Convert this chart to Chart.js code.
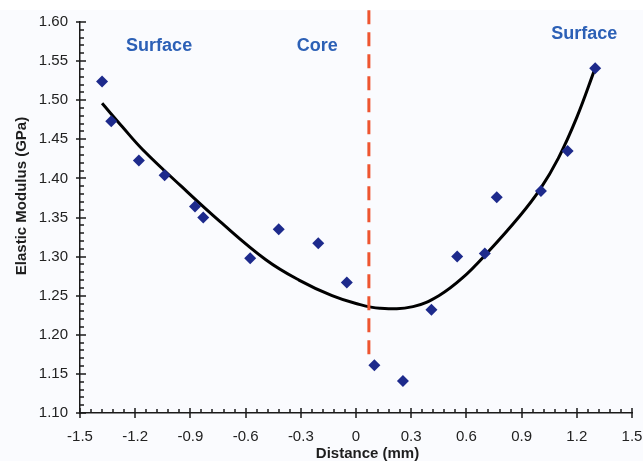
<!DOCTYPE html>
<html>
<head>
<meta charset="utf-8">
<script src="https://cdn.jsdelivr.net/npm/chart.js@4"></script>
<style>
  html, body { margin: 0; padding: 0; background: #fff; }
  #wrap { width: 643px; height: 461px; }
</style>
</head>
<body>
<div id="wrap"><canvas id="modulusChart"></canvas></div>
<script>
// measured points (distance mm, modulus GPa)
const distance = [-1.38, -1.33, -1.18, -1.04, -0.875, -0.83, -0.575, -0.42, -0.205, -0.05,
                  0.10, 0.255, 0.41, 0.55, 0.70, 0.765, 1.005, 1.15, 1.30];
const modulus = [1.524, 1.473, 1.423, 1.404, 1.364, 1.350, 1.298, 1.335, 1.317, 1.267,
                 1.161, 1.141, 1.232, 1.300, 1.304, 1.376, 1.384, 1.435, 1.541];

// trend line
const fitX = [-1.38, -1.27, -1.16, -0.95, -0.74, -0.49, -0.31, -0.13, 0.0, 0.13, 0.31, 0.45, 0.58, 0.71, 0.89, 1.00, 1.10, 1.20, 1.30];
const fitY = [1.496, 1.466, 1.437, 1.390, 1.345, 1.296, 1.270, 1.250, 1.240, 1.234, 1.236, 1.250, 1.273, 1.304, 1.352, 1.386, 1.426, 1.478, 1.541];

// core boundary (dashed)
const coreX = [0.07, 0.07];
const coreY = [1.615, 1.172];

const xTicks = [-1.5, -1.2, -0.9, -0.6, -0.3, 0, 0.3, 0.6, 0.9, 1.2, 1.5];
const yTicks = [1.10, 1.15, 1.20, 1.25, 1.30, 1.35, 1.40, 1.45, 1.50, 1.55, 1.60];

const regionNames = ['Surface', 'Core', 'Surface'];

const toPts = (xs, ys) => xs.map((x, i) => ({ x: x, y: ys[i] }));

const FONT = "'Liberation Sans', Arial, sans-serif";

// background, crossing ticks, minor ticks, titles, region labels
const decor = {
    id: 'decor',
    beforeDraw(chart) {
        const ctx = chart.ctx;
        ctx.save();
        ctx.fillStyle = '#fafbfe';
        ctx.fillRect(0, 10, chart.width, chart.height - 10);
        ctx.restore();
    },
    afterDraw(chart) {
        const ctx = chart.ctx;
        const xs = chart.scales.x, ys = chart.scales.y;
        const area = chart.chartArea;
        ctx.save();
        ctx.strokeStyle = '#1a1a1a';
        ctx.lineWidth = 1.5;
        ctx.beginPath();
        // x ticks
        for (let i = 0; i <= 50; i++) {
            const px = Math.round(xs.getPixelForValue(-1.5 + i * 0.06));
            if (i % 5 === 0) {
                ctx.moveTo(px, area.bottom - 5); ctx.lineTo(px, area.bottom + 5);
            } else {
                ctx.moveTo(px, area.bottom - 4); ctx.lineTo(px, area.bottom);
            }
        }
        // y ticks
        for (let i = 0; i <= 50; i++) {
            const py = Math.round(ys.getPixelForValue(1.10 + i * 0.01));
            if (i % 5 === 0) {
                ctx.moveTo(area.left - 4, py); ctx.lineTo(area.left + 6, py);
            } else {
                ctx.moveTo(area.left, py); ctx.lineTo(area.left + 4, py);
            }
        }
        ctx.stroke();

        // axis titles
        ctx.fillStyle = '#1e1e1e';
        ctx.font = 'bold 15px ' + FONT;
        ctx.textAlign = 'center';
        ctx.textBaseline = 'middle';
        ctx.fillText('Distance (mm)', 367.5, 454);
        ctx.save();
        ctx.translate(21.5, 196);
        ctx.rotate(-Math.PI / 2);
        ctx.fillText('Elastic Modulus (GPa)', 0, 0);
        ctx.restore();

        // region labels
        const spots = [[-1.07, 1.569], [-0.21, 1.569], [1.24, 1.584]];
        ctx.fillStyle = '#2c60b6';
        ctx.font = 'bold 18px ' + FONT;
        regionNames.forEach((name, i) => {
            ctx.fillText(name, xs.getPixelForValue(spots[i][0]), ys.getPixelForValue(spots[i][1]));
        });
        ctx.restore();
    }
};

new Chart(document.getElementById('modulusChart'), {
    type: 'scatter',
    data: {
        datasets: [
            {
                label: 'Measured',
                data: toPts(distance, modulus),
                pointStyle: 'rectRot',
                pointRadius: 6,
                pointHoverRadius: 6,
                backgroundColor: '#1d2a8c',
                borderColor: '#1d2a8c',
                borderWidth: 0
            },
            {
                label: 'Core boundary',
                type: 'line',
                data: toPts(coreX, coreY),
                borderColor: '#ee5530',
                borderWidth: 3,
                borderDash: [14, 8],
                pointRadius: 0,
                clip: false
            },
            {
                label: 'Fit',
                type: 'line',
                data: toPts(fitX, fitY),
                borderColor: '#000',
                borderWidth: 3,
                pointRadius: 0,
                tension: 0.4
            }
        ]
    },
    options: {
        responsive: true,
        maintainAspectRatio: false,
        animation: false,
        layout: { padding: { left: 0, right: 11, top: 22, bottom: 0 } },
        plugins: { legend: { display: false }, tooltip: { enabled: false } },
        scales: {
            x: {
                type: 'linear',
                min: -1.5, max: 1.5,
                afterBuildTicks: s => { s.ticks = xTicks.map(v => ({ value: v })); },
                afterFit: s => { s.height = 48; s.paddingLeft = 0; s.paddingRight = 0; },
                grid: { display: false, drawTicks: false },
                border: { display: true, color: '#1a1a1a', width: 1.5 },
                ticks: {
                    padding: 15,
                    color: '#222',
                    font: { family: FONT, size: 15 },
                    maxRotation: 0,
                    callback: v => (Math.abs(v) < 1e-9 ? '0' : v.toFixed(1))
                }
            },
            y: {
                type: 'linear',
                min: 1.10, max: 1.60,
                afterBuildTicks: s => { s.ticks = yTicks.map(v => ({ value: v })); },
                afterFit: s => { s.width = 80; s.paddingTop = 0; s.paddingBottom = 0; },
                grid: { display: false, drawTicks: false },
                border: { display: true, color: '#1a1a1a', width: 1.5 },
                ticks: {
                    padding: 12,
                    color: '#222',
                    font: { family: FONT, size: 15 },
                    callback: v => v.toFixed(2)
                }
            }
        }
    },
    plugins: [decor]
});
</script>
</body>
</html>
